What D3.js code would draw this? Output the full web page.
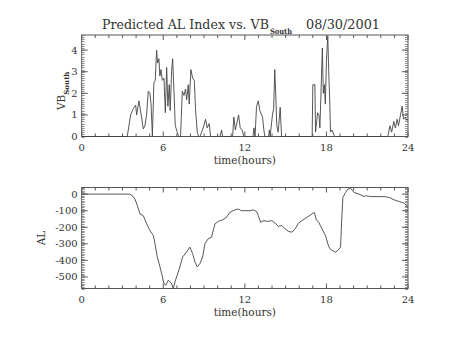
<!DOCTYPE html>
<html><head><meta charset="utf-8">
<script src="https://cdn.jsdelivr.net/npm/d3@7"></script>
<style>body{margin:0;background:#fff}svg{display:block}text{font-family:"DejaVu Serif","Liberation Serif",serif;fill:#333}</style>
</head><body><svg id="c" width="454" height="341"></svg>
<script>
const titleMain = "Predicted AL Index vs. VB";
const titleSub = "South";
const titleDate = "08/30/2001";
const xTicks = [0, 6, 12, 18, 24];
const vbTicks = [0, 1, 2, 3, 4];
const alTicks = [0, -100, -200, -300, -400, -500];

const vbHours = [0,3.35,3.6,3.8,3.97,4.04,4.21,4.4,4.53,4.65,4.77,4.9,5.02,5.1,5.2,5.31,5.41,5.51,5.58,5.68,5.75,5.83,5.93,6.05,6.15,6.25,6.34,6.44,6.51,6.61,6.69,6.78,6.88,6.98,7.13,7.27,7.4,7.52,7.64,7.72,7.84,7.91,8.03,8.16,8.28,8.38,8.5,8.6,8.7,8.94,9.11,9.23,9.38,9.48,10.17,10.29,10.36,11.1,11.19,11.3,11.54,11.66,11.8,11.93,12.6,12.67,12.75,12.86,12.99,13.1,13.3,13.4,13.47,13.75,13.8,13.86,14.03,14.12,14.2,14.27,14.35,14.45,14.6,14.7,16.95,17.0,17.15,17.2,17.35,17.45,17.52,17.7,17.77,17.85,17.92,18.0,18.1,18.17,18.25,18.3,18.42,18.6,22.5,22.55,22.67,22.8,22.95,23.07,23.2,23.3,23.45,23.57,23.67,23.8,23.9,24];
const vbValues = [0,0,1.0,1.3,1.45,1.0,1.65,0.9,0.35,0.5,1.0,2.1,2.0,1.5,0,2.5,2.6,4.0,3.4,3.6,2.8,3.1,2.6,2.7,1.1,3.2,1.4,2.4,1.2,3.0,3.6,2.2,0.5,0.3,0,0,2.1,1.9,2.2,1.7,2.4,1.5,3.1,2.7,2.6,1.2,0.2,0,0,0.4,0.8,0.4,0.6,0,0,0.3,0,0,0.9,0.3,1.0,0.4,0.3,0,0,0.4,0,1.4,1.65,1.2,0.9,0.3,0,0,0.3,0,1.0,1.3,3.1,2.0,0.5,0.2,1.35,0,0,2.4,2.4,0.2,1.1,1.0,0.4,4.1,2.0,2.4,1.5,3.5,4.65,3.0,1.5,0.2,0.3,0,0,0.1,0.5,0.2,0.7,0.4,0.8,0.5,1.0,1.4,0.8,0.9,0.75,0.8];

const alHours = [0,3.5,3.67,3.92,4.09,4.29,4.53,4.78,5.02,5.27,5.39,5.56,5.7,5.88,6.05,6.2,6.37,6.49,6.61,6.73,6.86,6.98,7.22,7.42,7.71,7.96,8.16,8.33,8.5,8.69,8.89,9.06,9.3,9.55,9.8,10.04,10.36,10.65,10.9,11.27,11.51,11.76,12.0,12.37,12.62,12.86,12.99,13.16,13.4,13.65,13.98,14.22,14.47,14.72,14.96,15.21,15.46,15.7,15.95,16.2,16.57,16.94,17.11,17.26,17.43,17.68,17.93,18.1,18.25,18.42,18.67,18.84,19.04,19.11,19.21,19.41,19.58,19.78,20.03,20.4,20.77,20.89,21.26,21.76,22.25,22.62,22.99,23.36,23.73,24];
const alValues = [0,0,-5,-30,-70,-120,-130,-180,-220,-250,-300,-380,-420,-480,-540,-550,-520,-530,-540,-570,-530,-500,-440,-380,-350,-320,-360,-410,-440,-420,-380,-300,-270,-260,-180,-165,-155,-140,-110,-95,-90,-100,-100,-100,-95,-105,-130,-170,-160,-165,-160,-175,-195,-190,-210,-225,-230,-210,-175,-160,-140,-120,-110,-155,-170,-210,-250,-300,-330,-340,-350,-340,-320,-180,-20,10,30,35,10,0,-15,-10,-15,-15,-15,-20,-35,-45,-55,-80];

const svg = d3.select("#c");
const L = 81.7, R = 408;
const x = d3.scaleLinear().domain([0, 24]).range([L, R]);

function panel(top, bottom, y, majors, minorStep, yMin, yMax, hours, vals) {
  const g = svg.append("g");
  const col = "#555";
  g.append("rect").attr("x", L).attr("y", top).attr("width", R - L).attr("height", bottom - top)
    .attr("fill", "none").attr("stroke", col).attr("stroke-width", 1);
  const xs = d3.range(0, 25, 1);
  xs.forEach(h => {
    const len = (h % 6 === 0) ? 5 : 3;
    g.append("line").attr("x1", x(h)).attr("x2", x(h)).attr("y1", bottom).attr("y2", bottom - len).attr("stroke", col);
    g.append("line").attr("x1", x(h)).attr("x2", x(h)).attr("y1", top).attr("y2", top + len).attr("stroke", col);
  });
  const start = Math.ceil(yMin / minorStep);
  for (let i = start; i * minorStep <= yMax + 1e-9; i++) {
    const v = i * minorStep;
    const yy = Math.round(y(v)) + 0.5;
    g.append("line").attr("x1", L).attr("x2", L + 3).attr("y1", yy).attr("y2", yy).attr("stroke", "#777").attr("stroke-width", 0.8);
    g.append("line").attr("x1", R).attr("x2", R - 3).attr("y1", yy).attr("y2", yy).attr("stroke", "#777").attr("stroke-width", 0.8);
  }
  majors.forEach(v => {
    g.append("line").attr("x1", L).attr("x2", L + 6).attr("y1", y(v)).attr("y2", y(v)).attr("stroke", col);
    g.append("line").attr("x1", R).attr("x2", R - 6).attr("y1", y(v)).attr("y2", y(v)).attr("stroke", col);
    g.append("text").attr("x", L - 4).attr("y", y(v) + 3.5).attr("text-anchor", "end")
      .attr("font-size", 10).text(v);
  });
  xTicks.forEach(h => {
    g.append("text").attr("x", x(h)).attr("y", bottom + 14).attr("text-anchor", "middle")
      .attr("font-size", 10).text(h);
  });
  g.append("text").attr("x", (L + R) / 2).attr("y", bottom + 27).attr("text-anchor", "middle")
    .attr("font-size", 10.5).text("time(hours)");
  const line = d3.line().x((d, i) => x(hours[i])).y(d => y(d));
  g.append("path").datum(vals).attr("d", line).attr("fill", "none")
    .attr("stroke", "#444").attr("stroke-width", 0.9).attr("stroke-linejoin", "round");
  return g;
}

const yTop = d3.scaleLinear().domain([0, 4.7]).range([136.5, 35]);
panel(35, 136.5, yTop, vbTicks, 0.1, 0, 4.7, vbHours, vbValues);
const yBot = d3.scaleLinear().domain([-570, 40]).range([288.5, 187.5]);
panel(187.5, 288.5, yBot, alTicks, 10, -570, 40, alHours, alValues);

svg.append("text").attr("x", 102).attr("y", 29).attr("font-size", 12.5)
  .attr("textLength", 167).attr("lengthAdjust", "spacingAndGlyphs").text(titleMain);
svg.append("text").attr("x", 270).attr("y", 34).attr("font-size", 7.5).attr("font-weight", "bold")
  .attr("textLength", 22).attr("lengthAdjust", "spacingAndGlyphs").text(titleSub);
svg.append("text").attr("x", 306).attr("y", 29).attr("font-size", 12.5)
  .attr("textLength", 74).attr("lengthAdjust", "spacingAndGlyphs").text(titleDate);

const vbl = svg.append("text").attr("transform", "translate(65,110) rotate(-90)").attr("font-size", 10.5);
vbl.append("tspan").text("VB");
vbl.append("tspan").attr("dy", 3.5).attr("font-size", 7).attr("font-weight", "bold").text("South");
svg.append("text").attr("transform", "translate(45,238) rotate(-90)").attr("text-anchor", "middle")
  .attr("font-size", 10.5).text("AL");
</script></body></html>
